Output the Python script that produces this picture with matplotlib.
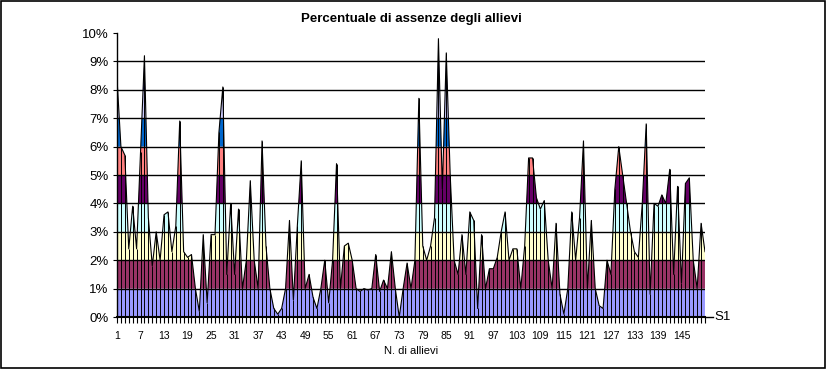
import numpy as np
import matplotlib
matplotlib.use('Agg')
import matplotlib.pyplot as plt
from matplotlib.patches import Rectangle

# --- dati (percentuale di assenze per allievo) ---
absences = [
    8.4, 6.0, 5.7, 2.4, 3.9, 2.4, 5.8, 9.2, 3.5, 1.8,
    3.0, 2.0, 3.6, 3.7, 2.3, 3.2, 6.9, 2.3, 2.1, 2.2,
    1.0, 0.2, 2.9, 0.5, 2.9, 2.9, 6.5, 8.1, 1.5, 4.0,
    1.5, 3.8, 1.0, 2.0, 4.8, 2.0, 1.0, 6.2, 2.5, 1.0,
    0.3, 0.1, 0.3, 1.0, 3.4, 0.6, 3.2, 5.5, 1.0, 1.5,
    0.7, 0.3, 1.0, 2.0, 0.5, 2.0, 5.4, 1.0, 2.5, 2.6,
    2.0, 1.0, 0.9, 1.0, 0.95, 1.0, 2.2, 0.9, 1.3, 1.0,
    2.3, 1.0, 0.0, 1.0, 1.9, 1.0, 2.0, 7.7, 2.5, 2.0,
    2.5, 3.5, 9.8, 4.5, 9.3, 5.0, 2.0, 1.5, 2.9, 1.5,
    3.7, 3.4, 0.3, 2.9, 1.0, 1.7, 1.7, 2.1, 3.0, 3.7,
    2.0, 2.4, 2.4, 1.0, 2.5, 5.6, 5.6, 4.2, 3.8, 4.1,
    2.0, 1.0, 3.3, 0.8, 0.1, 1.0, 3.7, 2.0, 3.5, 6.2,
    1.0, 3.4, 1.0, 0.4, 0.3, 2.0, 1.5, 4.5, 6.0, 5.0,
    4.0, 3.0, 2.3, 2.1, 4.0, 6.8, 0.8, 4.0, 3.9, 4.3,
    4.0, 5.2, 1.5, 4.6, 1.2, 4.7, 4.9, 2.0, 1.0, 3.3,
    2.3,
]
students = np.arange(1, len(absences) + 1)
x_labels = list(range(1, 146, 6))
y_labels = ['%d%%' % v for v in range(0, 11)]

# colori delle fasce (palette Excel)
band_colors = ['#9999FF', '#993366', '#FFFFCC', '#CCFFFF', '#660066',
               '#FF8080', '#0066CC', '#CCCCFF', '#000080', '#FF00FF']

plt.rcParams['font.family'] = ['Liberation Sans', 'DejaVu Sans']

fig = plt.figure(figsize=(8.27, 3.69), dpi=100)
fig.patches.append(Rectangle((0.001, 0.002), 0.997, 0.995, transform=fig.transFigure,
                             fill=False, edgecolor='black', linewidth=1.2))
ax = fig.add_axes([117 / 827, 52 / 369, 588 / 827, 284 / 369])

y = np.array(absences, dtype=float)
x = students.astype(float)
# curva densa solo per tagliare le fasce di colore
xf = np.linspace(x[0], x[-1], (len(x) - 1) * 20 + 1)
yf = np.interp(xf, x, y)
for k, c in enumerate(band_colors):
    ax.fill_between(xf, k, np.minimum(yf, k + 1), where=yf > k, color=c,
                    linewidth=0, zorder=1)

for g in range(1, 10):
    ax.axhline(g, color='black', linewidth=1.0, zorder=2)

ax.vlines(x, 0, y, color='black', linewidth=0.7, zorder=3)
ax.plot(x, y, color='black', linewidth=0.8, zorder=4)

ax.set_xlim(1, len(absences))
ax.set_ylim(0, 10)
ax.set_yticks(range(0, 11))
ax.set_yticklabels(y_labels, fontsize=9.5)
ax.set_xticks(x_labels)
ax.set_xticklabels([str(v) for v in x_labels], fontsize=7.5)
ax.set_xticks(students, minor=True)
ax.tick_params(axis='x', which='both', length=4, width=0.8, pad=6)
ax.tick_params(axis='y', length=3, width=0.8, pad=3)
for s in ['top', 'right']:
    ax.spines[s].set_visible(False)
ax.spines['left'].set_linewidth(1.0)
ax.spines['bottom'].set_linewidth(1.5)
ax.set_xlabel('N. di allievi', fontsize=8, labelpad=4)

ax.plot([len(absences), len(absences) + 2], [0, 0], color='black', linewidth=1.0, clip_on=False)
ax.text(len(absences) + 2.5, 0, 'S1', fontsize=9.5, va='center', ha='left')

fig.text(411 / 827, 1 - 19 / 369, 'Percentuale di assenze degli allievi',
         ha='center', va='center', fontsize=9.5, fontweight='bold')

fig.savefig('out.png', dpi=100)
